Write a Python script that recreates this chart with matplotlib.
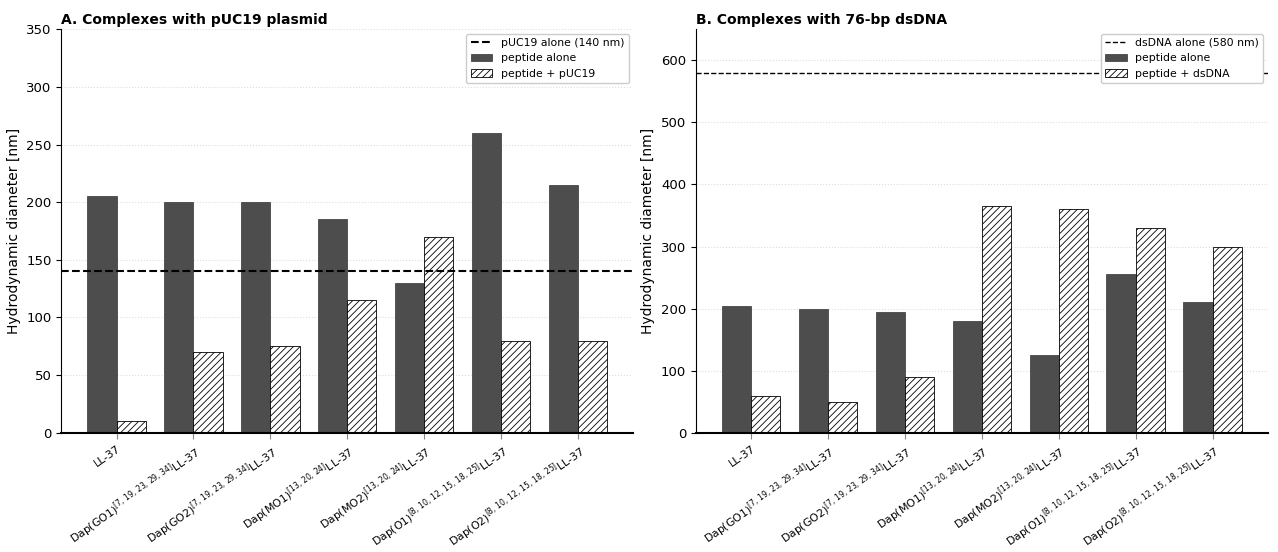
import matplotlib
matplotlib.use("Agg")
import matplotlib.pyplot as plt
import numpy as np

plt.rcParams['hatch.linewidth'] = 0.6

# peptide names (x tick labels)
peptides = [
    "LL-37",
    r"Dap(GO1)$^{[7,\,19,\,23,\,29,\,34]}$LL-37",
    r"Dap(GO2)$^{[7,\,19,\,23,\,29,\,34]}$LL-37",
    r"Dap(MO1)$^{[13,\,20,\,24]}$LL-37",
    r"Dap(MO2)$^{[13,\,20,\,24]}$LL-37",
    r"Dap(O1)$^{[8,\,10,\,12,\,15,\,18,\,25]}$LL-37",
    r"Dap(O2)$^{[8,\,10,\,12,\,15,\,18,\,25]}$LL-37",
]

# panel A: pUC19 plasmid
puc_alone = 140
peptide_alone_a = [205, 200, 200, 185, 130, 260, 215]
peptide_puc = [10, 70, 75, 115, 170, 80, 80]

# panel B: 76-bp dsDNA
dsdna_alone = 580
peptide_alone_b = [205, 200, 195, 180, 125, 255, 210]
peptide_dsdna = [60, 50, 90, 365, 360, 330, 300]


def draw_panel(ax, alone, complexed, ref, ref_label, cplx_label, title, ymax, yticks, ref_lw):
    x = np.arange(len(peptides))
    w = 0.38
    ax.axhline(ref, color='black', linestyle='--', linewidth=ref_lw, label=ref_label, zorder=3)
    ax.bar(x - w / 2, alone, w, color='#4d4d4d', edgecolor='#333333', linewidth=0.5,
           label='peptide alone', zorder=2)
    ax.bar(x + w / 2, complexed, w, color='white', edgecolor='black', hatch='/////',
           linewidth=0.6, label=cplx_label, zorder=2)
    ax.set_xticks(x)
    ax.set_xticklabels(peptides, rotation=35, ha='right', rotation_mode='anchor', fontsize=7.8)
    ax.tick_params(axis='x', colors='#888888', labelcolor='black', length=4)
    ax.set_ylim(0, ymax)
    ax.set_yticks(yticks)
    ax.tick_params(axis='y', labelsize=9.5)
    ax.set_ylabel("Hydrodynamic diameter [nm]", fontsize=10)
    ax.set_title(title, loc='left', fontsize=10, fontweight='bold', pad=4)
    ax.grid(axis='y', linestyle=':', color='#dddddd', linewidth=0.8, zorder=0)
    ax.set_axisbelow(True)
    ax.spines['top'].set_visible(False)
    ax.spines['right'].set_visible(False)
    ax.spines['bottom'].set_linewidth(1.5)
    ax.spines['left'].set_linewidth(0.8)
    ax.legend(loc='upper right', fontsize=7.8, framealpha=1, edgecolor='#cccccc',
              borderaxespad=0.4)


fig, (ax1, ax2) = plt.subplots(1, 2, figsize=(12.78, 5.52), dpi=100)
fig.subplots_adjust(left=0.048, right=0.992, bottom=0.216, top=0.947, wspace=0.11)

draw_panel(ax1, peptide_alone_a, peptide_puc, puc_alone, "pUC19 alone (140 nm)",
           "peptide + pUC19", "A. Complexes with pUC19 plasmid", 350,
           [0, 50, 100, 150, 200, 250, 300, 350], 1.5)
draw_panel(ax2, peptide_alone_b, peptide_dsdna, dsdna_alone, "dsDNA alone (580 nm)",
           "peptide + dsDNA", "B. Complexes with 76-bp dsDNA", 650,
           [0, 100, 200, 300, 400, 500, 600], 1.0)

fig.savefig("out.png", dpi=100)
